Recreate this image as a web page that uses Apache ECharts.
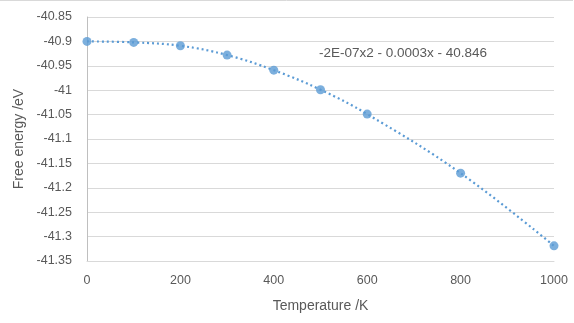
<!DOCTYPE html>
<html><head><meta charset="utf-8">
<script src="https://cdn.jsdelivr.net/npm/echarts@6/dist/echarts.min.js"></script>
<style>html,body{margin:0;padding:0;background:#fff;}#c{width:574px;height:323px;}</style>
</head><body><div id="c"></div>
<script>
const temperatures = [0, 100, 200, 300, 400, 500, 600, 800, 1000];
const freeEnergy = [-40.900, -40.902, -40.909, -40.928, -40.959, -40.999, -41.049, -41.170, -41.319];
const xTicks = [0, 200, 400, 600, 800, 1000];
const yTicks = [-41.35, -41.3, -41.25, -41.2, -41.15, -41.1, -41.05, -41, -40.95, -40.9, -40.85];
const trendLabel = '-2E-07x2 - 0.0003x - 40.846';
const xTitle = 'Temperature /K';
const yTitle = 'Free energy /eV';

const pts = temperatures.map((t, i) => [t, freeEnergy[i]]);
const chart = echarts.init(document.getElementById('c'), null, {renderer: 'canvas'});
const fam = 'Liberation Sans, Arial, sans-serif';
chart.setOption({
  animation: false,
  textStyle: {fontFamily: fam},
  grid: {left: 87, right: 20, top: 17, bottom: 62},
  xAxis: {
    type: 'value', min: xTicks[0], max: xTicks[xTicks.length - 1], interval: 200,
    name: xTitle, nameLocation: 'middle', nameGap: 38,
    nameTextStyle: {color: '#595959', fontSize: 14, fontFamily: fam},
    axisLine: {show: true, lineStyle: {color: '#d9d9d9'}},
    axisTick: {show: false},
    splitLine: {show: false},
    axisLabel: {color: '#595959', fontSize: 12.5, margin: 13, fontFamily: fam,
      formatter: v => String(v)}
  },
  yAxis: {
    type: 'value', min: yTicks[0], max: yTicks[yTicks.length - 1], interval: 0.05,
    name: yTitle, nameLocation: 'middle', nameGap: 60, nameRotate: 90,
    nameTextStyle: {color: '#595959', fontSize: 14, fontFamily: fam},
    axisLine: {show: true, lineStyle: {color: '#bfbfbf'}},
    axisTick: {show: false},
    splitLine: {show: true, lineStyle: {color: '#d9d9d9'}},
    axisLabel: {color: '#595959', fontSize: 12.5, margin: 15, fontFamily: fam,
      formatter: v => String(parseFloat(v.toFixed(2)))}
  },
  graphic: [
    {type: 'line', shape: {x1: 0, y1: 0.5, x2: 573, y2: 0.5}, style: {stroke: '#d9d9d9', lineWidth: 1}, silent: true},
    {type: 'text', left: 319, top: 46, style: {text: trendLabel, fill: '#595959', font: '13.5px ' + fam}}
  ],
  series: [
    {type: 'line', data: pts, smooth: 0.4, showSymbol: false, symbol: 'none',
      lineStyle: {color: '#5b9bd5', width: 2.2, type: [2, 3]}, z: 2},
    {type: 'scatter', data: pts, symbol: 'circle', symbolSize: 9,
      itemStyle: {color: '#5b9bd5'}, z: 3}
  ]
});
</script></body></html>
